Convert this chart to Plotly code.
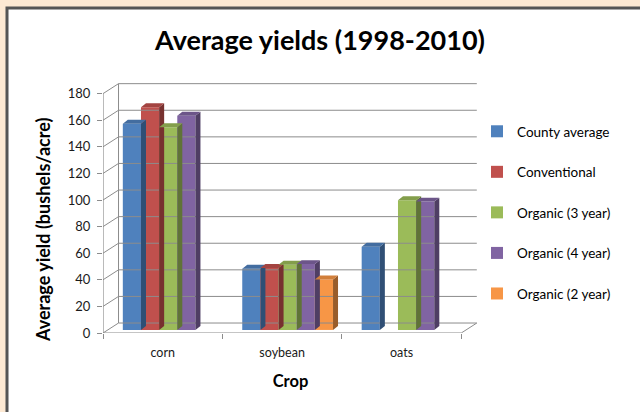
import plotly.graph_objects as go

# ---------------- data ----------------
categories = ["corn", "soybean", "oats"]
series_names = ["County average", "Conventional", "Organic (3 year)", "Organic (4 year)", "Organic (2 year)"]
county_average = [155, 46, 62.5]
conventional = [167.5, 46.5, None]
organic_3yr = [152.5, 49, 97.5]
organic_4yr = [161, 49.5, 96.5]
organic_2yr = [None, 38, None]
y_ticks = [0, 20, 40, 60, 80, 100, 120, 140, 160, 180]

series_values = [county_average, conventional, organic_3yr, organic_4yr, organic_2yr]
colors = ["#4F81BD", "#C0504D", "#9BBB59", "#8064A2", "#F79646"]

# ---------------- pseudo-3D geometry (in axis units) ----------------
W = 0.152          # bar width
BAR_DX, BAR_DY = 0.046, 2.3   # bars sit mid-depth
FX, FY = 0.042, 3.0           # bar depth (side/top faces)
WALL_DX, WALL_DY = 0.13, 7.5  # back wall offset
YMAX = 180


def shade(hex_color, f):
    h = hex_color.lstrip("#")
    r, g, b = (int(h[i:i + 2], 16) for i in (0, 2, 4))
    return "rgb(%d,%d,%d)" % (r * f, g * f, b * f)


fig = go.Figure()

# back wall grid lines + left wall diagonals + floor
gx, gy = [], []
for v in y_ticks:
    gx += [-0.5, -0.5 + WALL_DX, 2.5 + WALL_DX, None]
    gy += [v, v + WALL_DY, v + WALL_DY, None]
gx += [-0.5 + WALL_DX, -0.5 + WALL_DX, None]
gy += [WALL_DY, YMAX + WALL_DY, None]
gx += [2.5, 2.5 + WALL_DX, None]
gy += [0, WALL_DY, None]
fig.add_trace(go.Scatter(x=gx, y=gy, mode="lines", line=dict(color="#8C8C8C", width=1),
                         hoverinfo="skip", showlegend=False))
fig.add_trace(go.Scatter(x=[-0.5, -0.5, None, -0.5, 2.5], y=[YMAX, 0, None, 0, 0], mode="lines",
                         line=dict(color="#8C8C8C", width=1.2), hoverinfo="skip", showlegend=False))

# side & top faces
for s, (name, vals, col) in enumerate(zip(series_names, series_values, colors)):
    sx, sy, tx, ty = [], [], [], []
    for c, v in enumerate(vals):
        if v is None:
            continue
        x0 = c + BAR_DX + (s - 2) * W - W / 2
        x1 = x0 + W
        y0 = BAR_DY
        y1 = BAR_DY + v
        sx += [x1, x1 + FX, x1 + FX, x1, x1, None]
        sy += [y0, y0 + FY, y1 + FY, y1, y0, None]
        tx += [x0, x1, x1 + FX, x0 + FX, x0, None]
        ty += [y1, y1, y1 + FY, y1 + FY, y1, None]
    fig.add_trace(go.Scatter(x=sx, y=sy, mode="lines", fill="toself", fillcolor=shade(col, 0.62),
                             line=dict(width=0), hoverinfo="skip", showlegend=False))
    fig.add_trace(go.Scatter(x=tx, y=ty, mode="lines", fill="toself", fillcolor=shade(col, 0.85),
                             line=dict(width=0), hoverinfo="skip", showlegend=False))

# front faces (bars)
for s, (name, vals, col) in enumerate(zip(series_names, series_values, colors)):
    xs, ys = [], []
    for c, v in enumerate(vals):
        if v is None:
            continue
        xs.append(c + BAR_DX + (s - 2) * W)
        ys.append(v)
    fig.add_trace(go.Bar(x=xs, y=ys, base=BAR_DY, width=W, name=name, marker=dict(color=col, line=dict(width=0)),
                         legendgroup=name))

L, R, T, B = 103, 478, 83, 333
pw, ph = R - L, B - T


def px_x(p):
    return (p - L) / pw


def px_y(p):
    return (B - p) / ph


fig.update_layout(
    width=640, height=412,
    margin=dict(l=L, r=640 - R, t=T, b=412 - B),
    paper_bgcolor="#FDE9D3",
    plot_bgcolor="rgba(0,0,0,0)",
    barmode="overlay",
    font=dict(family="Lato, 'Open Sans', sans-serif", color="#000000"),
    title=dict(text="<b>Average yields (1998-2010)</b>", x=0.5, xref="container", xanchor="center",
               y=1 - 41 / 412, yanchor="middle", font=dict(size=27, color="#000000")),
    showlegend=True,
    legend=dict(x=px_x(477), y=px_y(116), xanchor="left", yanchor="top", tracegroupgap=20,
                font=dict(size=13.5), bgcolor="rgba(0,0,0,0)", itemwidth=30),
    xaxis=dict(range=[-0.5, 2.5 + WALL_DX + 0.01], tickvals=[0, 1, 2], ticktext=categories,
               ticks="", showgrid=False, zeroline=False, showline=False, ticklabelstandoff=10,
               tickfont=dict(size=12.5, color="#1a1a1a"),
               minor=dict(tickvals=[-0.5, 0.5, 1.5, 2.5], ticks="outside", ticklen=5,
                          tickcolor="#8C8C8C", showgrid=False),
               title=dict(text="<b>Crop</b>", font=dict(size=16.5), standoff=16)),
    yaxis=dict(range=[0, YMAX + WALL_DY + 0.5], tickvals=y_ticks, ticks="outside", ticklen=5,
               tickcolor="#8C8C8C", showgrid=False, zeroline=False, showline=False, ticklabelstandoff=4,
               tickfont=dict(size=13, color="#1a1a1a")),
    shapes=[dict(type="rect", xref="paper", yref="paper", x0=px_x(7), x1=px_x(660), y0=px_y(430), y1=px_y(8),
                 fillcolor="#FFFFFF", line=dict(color="#555555", width=3), layer="below")],
    annotations=[dict(text="<b>Average yield (bushels/acre)</b>", textangle=-90, xref="paper", yref="paper",
                      x=px_x(43), y=px_y(230), xanchor="center", yanchor="middle", showarrow=False,
                      font=dict(size=18, color="#000000"))],
)

fig.write_html("out.html", config={"displayModeBar": False},
               post_script="document.body.style.margin='0';")
